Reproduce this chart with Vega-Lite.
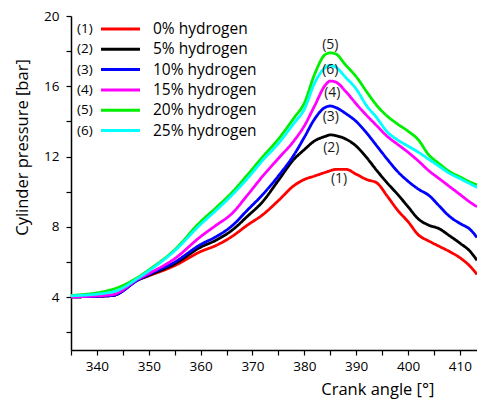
{
  "$schema": "https://vega.github.io/schema/vega-lite/v6.json",
  "width": 406,
  "height": 334,
  "autosize": {"type": "none"},
  "padding": {"left": 71, "top": 16, "right": 0, "bottom": 50},
  "background": "white",
  "config": {
    "view": {"stroke": null},
    "font": "Open Sans",
    "axis": {
      "grid": false,
      "domainColor": "black",
      "tickColor": "black",
      "labelColor": "black",
      "titleColor": "black",
      "domainWidth": 1.5,
      "tickWidth": 1.2,
      "labelFont": "Open Sans",
      "titleFont": "Open Sans",
      "titleFontWeight": "normal",
      "labelFontSize": 13.5,
      "titleFontSize": 16.5,
      "labelOverlap": false,
      "labelBound": false,
      "labelFlush": false
    },
    "legend": {"labelFont": "Open Sans", "labelColor": "black"}
  },
  "datasets": {
    "curves": [
      {"angle": 335, "0% hydrogen": 4.02, "5% hydrogen": 4.02, "10% hydrogen": 4.02, "15% hydrogen": 4.02, "20% hydrogen": 4.1, "25% hydrogen": 4.08},
      {"angle": 343, "0% hydrogen": 4.1, "5% hydrogen": 4.1, "10% hydrogen": 4.1, "15% hydrogen": 4.15, "20% hydrogen": 4.45, "25% hydrogen": 4.3},
      {"angle": 348, "0% hydrogen": 5.0, "5% hydrogen": 5.0, "10% hydrogen": 5.0, "15% hydrogen": 5.05, "20% hydrogen": 5.15, "25% hydrogen": 5.1},
      {"angle": 350, "0% hydrogen": 5.22, "5% hydrogen": 5.25, "10% hydrogen": 5.3, "15% hydrogen": 5.35, "20% hydrogen": 5.55, "25% hydrogen": 5.5},
      {"angle": 355, "0% hydrogen": 5.8, "5% hydrogen": 5.9, "10% hydrogen": 6.0, "15% hydrogen": 6.2, "20% hydrogen": 6.7, "25% hydrogen": 6.65},
      {"angle": 360, "0% hydrogen": 6.6, "5% hydrogen": 6.85, "10% hydrogen": 7.0, "15% hydrogen": 7.45, "20% hydrogen": 8.3, "25% hydrogen": 8.15},
      {"angle": 363, "0% hydrogen": 6.95, "5% hydrogen": 7.25, "10% hydrogen": 7.45, "15% hydrogen": 8.1, "20% hydrogen": 9.1, "25% hydrogen": 8.95},
      {"angle": 366, "0% hydrogen": 7.45, "5% hydrogen": 7.8, "10% hydrogen": 8.05, "15% hydrogen": 8.75, "20% hydrogen": 9.95, "25% hydrogen": 9.8},
      {"angle": 369, "0% hydrogen": 8.1, "5% hydrogen": 8.6, "10% hydrogen": 8.95, "15% hydrogen": 9.8, "20% hydrogen": 10.95, "25% hydrogen": 10.75},
      {"angle": 372, "0% hydrogen": 8.7, "5% hydrogen": 9.45, "10% hydrogen": 9.85, "15% hydrogen": 10.9, "20% hydrogen": 12.0, "25% hydrogen": 11.8},
      {"angle": 375, "0% hydrogen": 9.5, "5% hydrogen": 10.65, "10% hydrogen": 10.9, "15% hydrogen": 11.9, "20% hydrogen": 13.0, "25% hydrogen": 12.75},
      {"angle": 378, "0% hydrogen": 10.35, "5% hydrogen": 11.85, "10% hydrogen": 12.1, "15% hydrogen": 12.9, "20% hydrogen": 14.2, "25% hydrogen": 13.9},
      {"angle": 380, "0% hydrogen": 10.7, "5% hydrogen": 12.4, "10% hydrogen": 13.1, "15% hydrogen": 13.75, "20% hydrogen": 15.05, "25% hydrogen": 14.7},
      {"angle": 382, "0% hydrogen": 10.9, "5% hydrogen": 12.9, "10% hydrogen": 14.15, "15% hydrogen": 14.9, "20% hydrogen": 16.7, "25% hydrogen": 16.2},
      {"angle": 384, "0% hydrogen": 11.1, "5% hydrogen": 13.15, "10% hydrogen": 14.8, "15% hydrogen": 16.05, "20% hydrogen": 17.8, "25% hydrogen": 17.05},
      {"angle": 385, "0% hydrogen": 11.2, "5% hydrogen": 13.24, "10% hydrogen": 14.88, "15% hydrogen": 16.3, "20% hydrogen": 17.9, "25% hydrogen": 17.2},
      {"angle": 386, "0% hydrogen": 11.27, "5% hydrogen": 13.2, "10% hydrogen": 14.8, "15% hydrogen": 16.25, "20% hydrogen": 17.85, "25% hydrogen": 17.1},
      {"angle": 388, "0% hydrogen": 11.28, "5% hydrogen": 13.0, "10% hydrogen": 14.45, "15% hydrogen": 15.7, "20% hydrogen": 17.2, "25% hydrogen": 16.5},
      {"angle": 390, "0% hydrogen": 11.0, "5% hydrogen": 12.6, "10% hydrogen": 14.0, "15% hydrogen": 15.0, "20% hydrogen": 16.55, "25% hydrogen": 15.85},
      {"angle": 392, "0% hydrogen": 10.7, "5% hydrogen": 11.95, "10% hydrogen": 13.35, "15% hydrogen": 14.35, "20% hydrogen": 15.7, "25% hydrogen": 14.9},
      {"angle": 394, "0% hydrogen": 10.5, "5% hydrogen": 11.2, "10% hydrogen": 12.6, "15% hydrogen": 13.75, "20% hydrogen": 14.9, "25% hydrogen": 14.2},
      {"angle": 396, "0% hydrogen": 9.75, "5% hydrogen": 10.5, "10% hydrogen": 11.85, "15% hydrogen": 13.15, "20% hydrogen": 14.3, "25% hydrogen": 13.4},
      {"angle": 398, "0% hydrogen": 8.95, "5% hydrogen": 9.85, "10% hydrogen": 11.15, "15% hydrogen": 12.7, "20% hydrogen": 13.85, "25% hydrogen": 12.95},
      {"angle": 400, "0% hydrogen": 8.3, "5% hydrogen": 9.15, "10% hydrogen": 10.6, "15% hydrogen": 12.25, "20% hydrogen": 13.45, "25% hydrogen": 12.6},
      {"angle": 402, "0% hydrogen": 7.55, "5% hydrogen": 8.45, "10% hydrogen": 10.15, "15% hydrogen": 11.75, "20% hydrogen": 12.95, "25% hydrogen": 12.25},
      {"angle": 404, "0% hydrogen": 7.2, "5% hydrogen": 8.1, "10% hydrogen": 9.8, "15% hydrogen": 11.2, "20% hydrogen": 12.1, "25% hydrogen": 11.85},
      {"angle": 406, "0% hydrogen": 6.9, "5% hydrogen": 7.9, "10% hydrogen": 9.2, "15% hydrogen": 10.75, "20% hydrogen": 11.6, "25% hydrogen": 11.45},
      {"angle": 408, "0% hydrogen": 6.6, "5% hydrogen": 7.5, "10% hydrogen": 8.6, "15% hydrogen": 10.3, "20% hydrogen": 11.15, "25% hydrogen": 11.05},
      {"angle": 410, "0% hydrogen": 6.25, "5% hydrogen": 7.08, "10% hydrogen": 8.2, "15% hydrogen": 9.85, "20% hydrogen": 10.85, "25% hydrogen": 10.75},
      {"angle": 412, "0% hydrogen": 5.75, "5% hydrogen": 6.6, "10% hydrogen": 7.85, "15% hydrogen": 9.4, "20% hydrogen": 10.55, "25% hydrogen": 10.45},
      {"angle": 413.3, "0% hydrogen": 5.3, "5% hydrogen": 6.1, "10% hydrogen": 7.4, "15% hydrogen": 9.15, "20% hydrogen": 10.4, "25% hydrogen": 10.25}
    ],
    "serieskeys": [
      {"series": "0% hydrogen", "tag": "(1)"},
      {"series": "5% hydrogen", "tag": "(2)"},
      {"series": "10% hydrogen", "tag": "(3)"},
      {"series": "15% hydrogen", "tag": "(4)"},
      {"series": "20% hydrogen", "tag": "(5)"},
      {"series": "25% hydrogen", "tag": "(6)"}
    ],
    "peaks": [
      {"label": "(5)", "angle": 385.0, "pressure": 18.35},
      {"label": "(6)", "angle": 385.0, "pressure": 16.95},
      {"label": "(4)", "angle": 385.4, "pressure": 15.6},
      {"label": "(3)", "angle": 385.1, "pressure": 14.24},
      {"label": "(2)", "angle": 385.2, "pressure": 12.48},
      {"label": "(1)", "angle": 386.7, "pressure": 10.72}
    ]
  },
  "encoding": {
    "x": {
      "field": "angle", "type": "quantitative",
      "scale": {"domain": [335, 413.3], "nice": false, "zero": false},
      "axis": {
        "values": [335, 340, 345, 350, 355, 360, 365, 370, 375, 380, 385, 390, 395, 400, 405, 410],
        "labelExpr": "datum.value % 10 == 0 ? format(datum.value, 'd') : ''",
        "tickSize": 5,
        "labelPadding": 4,
        "title": "Crank angle [°]",
        "titleX": 363,
        "titleY": 44,
        "titleAlign": "right",
        "titleAnchor": null,
        "titleBaseline": "alphabetic"
      }
    },
    "y": {
      "field": "pressure", "type": "quantitative",
      "scale": {"domain": [1, 20], "nice": false, "zero": false},
      "axis": {
        "values": [2, 4, 6, 8, 10, 12, 14, 16, 18, 20],
        "labelExpr": "datum.value % 4 == 0 ? format(datum.value, 'd') : ''",
        "tickSize": 5,
        "labelPadding": 7,
        "title": "Cylinder pressure [bar]",
        "titleAngle": 270,
        "titleX": -49,
        "titleY": 131,
        "titleAlign": "center",
        "titleBaseline": "middle",
        "titleFontSize": 16.5
      }
    }
  },
  "layer": [
    {
      "data": {"name": "curves"},
      "transform": [
        {"fold": ["0% hydrogen", "5% hydrogen", "10% hydrogen", "15% hydrogen", "20% hydrogen", "25% hydrogen"], "as": ["series", "pressure"]},
        {"lookup": "series", "from": {"data": {"name": "serieskeys"}, "key": "series", "fields": ["tag"]}}
      ],
      "mark": {"type": "line", "strokeWidth": 2.8, "clip": true, "interpolate": "monotone"},
      "encoding": {
        "color": {
          "field": "series", "type": "nominal",
          "scale": {
            "domain": ["0% hydrogen", "5% hydrogen", "10% hydrogen", "15% hydrogen", "20% hydrogen", "25% hydrogen"],
            "range": ["#ff0000", "#000000", "#0000ff", "#ff00ff", "#00ee00", "#00ffff"]
          },
          "legend": {
            "title": null,
            "orient": "none",
            "legendX": 41.75,
            "legendY": 5.25,
            "padding": 0,
            "symbolType": "M-3.9,0H3.9",
            "symbolSize": 100,
            "symbolStrokeWidth": 3,
            "labelFontSize": 15.5,
            "labelOffset": 24.75,
            "rowPadding": 3.3
          }
        },
        "strokeDash": {
          "field": "tag", "type": "nominal",
          "scale": {
            "domain": ["(1)", "(2)", "(3)", "(4)", "(5)", "(6)"],
            "range": [[1, 0], [1, 0], [1, 0], [1, 0], [1, 0], [1, 0]]
          },
          "legend": {
            "title": null,
            "orient": "none",
            "legendX": 0,
            "legendY": 6.25,
            "padding": 0,
            "symbolOpacity": 0,
            "symbolStrokeWidth": 0,
            "symbolSize": 100,
            "labelFontSize": 13.5,
            "labelOffset": -7.5,
            "rowPadding": 5.3
          }
        }
      }
    },
    {
      "data": {"name": "peaks"},
      "mark": {"type": "text", "fontSize": 14, "color": "#1a1a1a", "font": "Open Sans"},
      "encoding": {
        "text": {"field": "label"}
      }
    }
  ]
}
